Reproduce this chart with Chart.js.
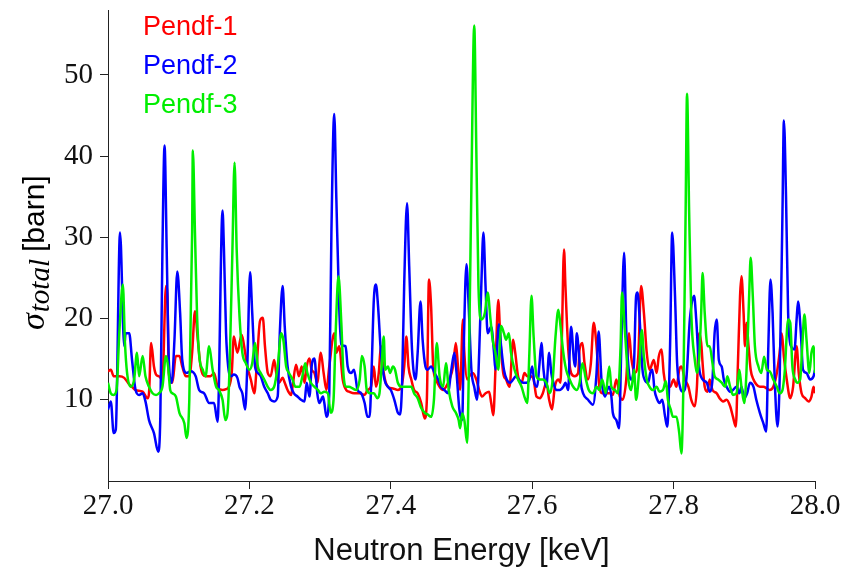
<!DOCTYPE html>
<html>
<head>
<meta charset="utf-8">
<script src="https://cdn.jsdelivr.net/npm/chart.js@4/dist/chart.umd.min.js"></script>
<style>
  html, body { margin: 0; padding: 0; background: #fff; }
  canvas { display: block; }
</style>
</head>
<body>
<canvas id="xsChart" width="844" height="570"></canvas>
<script>
// Pendf-1
const energy1 = [
  27.000, 27.004, 27.008, 27.016, 27.023, 27.030, 27.034, 27.039, 27.049, 27.056,
  27.058, 27.061, 27.065, 27.068, 27.072, 27.077, 27.082, 27.084, 27.086, 27.091,
  27.096, 27.101, 27.105, 27.110, 27.115, 27.119, 27.123, 27.127, 27.131, 27.138,
  27.145, 27.150, 27.155, 27.162, 27.167, 27.171, 27.175, 27.178, 27.183, 27.189,
  27.194, 27.197, 27.202, 27.207, 27.210, 27.215, 27.219, 27.222, 27.226, 27.230,
  27.235, 27.238, 27.242, 27.247, 27.250, 27.254, 27.259, 27.261, 27.266, 27.270,
  27.274, 27.278, 27.281, 27.285, 27.288, 27.292, 27.296, 27.301, 27.305, 27.309,
  27.313, 27.320, 27.323, 27.327, 27.332, 27.337, 27.341, 27.348, 27.356, 27.363,
  27.367, 27.372, 27.376, 27.379, 27.383, 27.386, 27.390, 27.396, 27.403, 27.410,
  27.415, 27.419, 27.422, 27.425, 27.429, 27.433, 27.438, 27.443, 27.448, 27.451,
  27.454, 27.457, 27.460, 27.464, 27.469, 27.474, 27.478, 27.483, 27.488, 27.492,
  27.495, 27.498, 27.502, 27.504, 27.508, 27.511, 27.516, 27.521, 27.525, 27.529,
  27.534, 27.539, 27.542, 27.545, 27.548, 27.552, 27.555, 27.559, 27.563, 27.568,
  27.573, 27.576, 27.580, 27.585, 27.589, 27.593, 27.598, 27.602, 27.606, 27.611,
  27.615, 27.620, 27.624, 27.628, 27.632, 27.637, 27.640, 27.642, 27.645, 27.647,
  27.651, 27.655, 27.660, 27.665, 27.667, 27.671, 27.674, 27.679, 27.683, 27.687,
  27.691, 27.695, 27.699, 27.704, 27.710, 27.714, 27.719, 27.724, 27.728, 27.733,
  27.737, 27.740, 27.745, 27.750, 27.754, 27.758, 27.762, 27.766, 27.772, 27.776,
  27.779, 27.783, 27.786, 27.790, 27.795, 27.800, 27.804, 27.808, 27.811, 27.816,
  27.821, 27.825, 27.830, 27.833, 27.836, 27.839, 27.841, 27.844, 27.848, 27.851,
  27.855, 27.861, 27.865, 27.870, 27.875, 27.880, 27.884, 27.888, 27.891, 27.894,
  27.896, 27.899, 27.901, 27.903, 27.906, 27.909, 27.913, 27.917, 27.922, 27.927,
  27.932, 27.936, 27.941, 27.946, 27.950, 27.953, 27.956, 27.960, 27.965, 27.969,
  27.974, 27.977, 27.981, 27.986, 27.991, 27.995, 27.998, 28.000
];
const sigma1 = [
  13.5, 13.7, 12.9, 12.9, 12.7, 11.9, 11.6, 11.2, 11.0, 10.2,
  10.8, 17.0, 14.1, 13.1, 12.9, 12.5, 24.0, 22.8, 13.3, 12.1,
  15.4, 15.4, 14.1, 12.9, 12.9, 15.8, 20.9, 17.4, 14.1, 12.9,
  12.9, 13.3, 11.6, 11.2, 11.3, 11.6, 13.3, 17.8, 15.8, 18.0,
  15.8, 14.1, 12.5, 10.8, 13.7, 19.7, 20.1, 16.6, 13.3, 12.9,
  14.9, 13.3, 12.1, 12.7, 12.1, 11.2, 10.6, 11.6, 14.3, 12.9,
  14.1, 12.1, 14.1, 15.1, 13.7, 13.3, 12.1, 15.8, 13.3, 11.2,
  14.1, 18.2, 15.8, 16.6, 12.5, 11.2, 11.0, 10.8, 10.8, 10.6,
  11.2, 11.6, 14.1, 11.6, 13.3, 16.6, 13.3, 11.6, 11.4, 11.2,
  11.6, 14.1, 17.8, 14.1, 12.5, 11.2, 10.8, 9.6, 7.7, 10.0,
  24.8, 21.5, 14.1, 12.5, 11.6, 11.2, 11.6, 12.5, 14.1, 17.0,
  14.1, 11.2, 19.9, 15.8, 12.5, 12.9, 13.3, 12.5, 11.2, 10.4,
  10.8, 11.0, 9.6, 8.1, 13.7, 22.3, 17.4, 13.3, 12.5, 11.6,
  17.4, 15.8, 12.9, 12.1, 13.3, 12.9, 12.9, 12.5, 10.4, 10.2,
  10.8, 12.1, 10.0, 8.8, 11.6, 12.5, 12.1, 17.8, 28.5, 24.0,
  16.2, 13.3, 12.9, 13.3, 16.2, 17.0, 14.5, 12.5, 14.5, 19.5,
  16.6, 11.6, 10.8, 10.8, 10.8, 10.6, 12.5, 10.4, 10.0, 12.5,
  18.2, 15.3, 13.3, 15.3, 24.0, 20.7, 15.8, 13.7, 14.9, 13.3,
  15.3, 16.2, 13.3, 11.6, 11.6, 12.5, 11.6, 13.7, 14.1, 12.5,
  11.6, 10.0, 9.2, 11.6, 18.2, 17.0, 14.5, 11.6, 11.0, 12.5,
  11.2, 10.8, 10.2, 9.8, 10.0, 9.2, 7.9, 6.7, 14.5, 22.8,
  25.2, 20.7, 16.6, 19.5, 16.6, 13.7, 12.5, 11.9, 11.6, 11.6,
  11.4, 11.2, 11.6, 13.3, 15.8, 18.2, 15.3, 12.5, 10.2, 11.6,
  16.6, 13.3, 10.8, 10.2, 9.8, 10.4, 11.6, 10.8
];

// Pendf-2
const energy2 = [
  27.000, 27.004, 27.008, 27.011, 27.017, 27.023, 27.025, 27.030, 27.034, 27.039,
  27.044, 27.049, 27.053, 27.058, 27.065, 27.071, 27.074, 27.077, 27.080, 27.083,
  27.086, 27.090, 27.094, 27.098, 27.102, 27.105, 27.111, 27.117, 27.124, 27.129,
  27.136, 27.143, 27.150, 27.155, 27.162, 27.164, 27.167, 27.170, 27.174, 27.178,
  27.183, 27.186, 27.190, 27.194, 27.197, 27.201, 27.204, 27.208, 27.212, 27.216,
  27.221, 27.226, 27.230, 27.235, 27.240, 27.243, 27.247, 27.250, 27.254, 27.259,
  27.263, 27.268, 27.273, 27.278, 27.281, 27.285, 27.288, 27.292, 27.296, 27.299,
  27.304, 27.306, 27.309, 27.313, 27.316, 27.320, 27.323, 27.327, 27.330, 27.336,
  27.339, 27.344, 27.348, 27.353, 27.358, 27.363, 27.367, 27.370, 27.373, 27.376,
  27.379, 27.382, 27.386, 27.391, 27.396, 27.400, 27.405, 27.410, 27.413, 27.416,
  27.419, 27.423, 27.426, 27.430, 27.435, 27.438, 27.442, 27.445, 27.449, 27.452,
  27.457, 27.462, 27.467, 27.471, 27.476, 27.481, 27.485, 27.490, 27.493, 27.497,
  27.501, 27.503, 27.507, 27.510, 27.514, 27.518, 27.522, 27.525, 27.528, 27.531,
  27.534, 27.537, 27.542, 27.546, 27.548, 27.550, 27.553, 27.556, 27.560, 27.564,
  27.569, 27.573, 27.577, 27.581, 27.587, 27.592, 27.596, 27.600, 27.603, 27.607,
  27.610, 27.613, 27.616, 27.620, 27.624, 27.627, 27.630, 27.634, 27.639, 27.644,
  27.647, 27.651, 27.653, 27.655, 27.659, 27.661, 27.663, 27.666, 27.669, 27.672,
  27.679, 27.686, 27.691, 27.694, 27.698, 27.703, 27.706, 27.709, 27.712, 27.714,
  27.719, 27.723, 27.726, 27.730, 27.733, 27.737, 27.740, 27.744, 27.747, 27.749,
  27.752, 27.756, 27.759, 27.764, 27.767, 27.770, 27.773, 27.777, 27.780, 27.784,
  27.788, 27.791, 27.795, 27.798, 27.802, 27.805, 27.809, 27.813, 27.818, 27.823,
  27.829, 27.832, 27.836, 27.841, 27.847, 27.851, 27.855, 27.858, 27.861, 27.864,
  27.868, 27.871, 27.875, 27.880, 27.884, 27.889, 27.893, 27.896, 27.900, 27.904,
  27.908, 27.913, 27.917, 27.922, 27.927, 27.931, 27.934, 27.937, 27.940, 27.943,
  27.947, 27.950, 27.954, 27.956, 27.959, 27.962, 27.966, 27.971, 27.974, 27.976,
  27.980, 27.983, 27.988, 27.993, 27.998, 28.000
];
const sigma2 = [
  8.8, 9.8, 5.9, 6.3, 30.6, 16.6, 18.2, 18.2, 14.9, 11.2,
  10.6, 10.8, 9.8, 7.5, 5.9, 3.6, 7.9, 28.5, 41.3, 28.5,
  14.9, 12.1, 17.4, 25.8, 20.7, 14.9, 13.3, 13.5, 12.9, 11.2,
  10.8, 9.6, 9.6, 7.3, 33.3, 28.5, 18.2, 14.1, 12.9, 13.1,
  12.7, 11.6, 10.8, 8.8, 14.1, 25.7, 20.7, 14.1, 13.3, 12.9,
  11.6, 10.8, 10.0, 9.8, 10.4, 18.2, 24.0, 19.0, 14.1, 11.6,
  10.8, 10.4, 10.0, 9.8, 12.1, 10.4, 14.1, 15.1, 10.8, 9.6,
  10.4, 9.6, 7.9, 10.8, 30.6, 45.2, 34.7, 21.5, 16.8, 16.6,
  14.1, 13.3, 13.7, 11.2, 10.8, 9.6, 7.9, 7.9, 14.1, 22.3,
  24.2, 21.5, 15.8, 12.5, 11.6, 11.2, 10.0, 8.4, 8.2, 12.1,
  24.4, 34.2, 26.5, 16.2, 12.5, 15.8, 22.1, 17.4, 14.1, 13.7,
  14.1, 13.3, 12.5, 11.6, 11.2, 10.8, 13.3, 15.8, 13.3, 8.8,
  7.5, 15.8, 26.7, 21.9, 13.7, 11.6, 10.0, 15.8, 24.0, 30.6,
  24.0, 18.2, 19.0, 15.8, 13.7, 15.8, 19.3, 16.6, 13.7, 12.5,
  12.1, 12.5, 12.9, 12.5, 12.1, 12.1, 12.5, 14.1, 12.1, 11.6,
  14.1, 17.0, 13.7, 11.6, 15.8, 13.3, 12.1, 11.2, 11.2, 11.6,
  12.1, 11.2, 15.8, 19.0, 14.9, 14.1, 18.2, 15.8, 12.0, 10.8,
  10.0, 9.4, 13.3, 18.4, 12.5, 10.4, 11.2, 11.6, 10.4, 8.4,
  7.5, 6.5, 16.6, 28.1, 18.6, 13.3, 12.5, 14.5, 22.8, 23.2,
  19.9, 13.7, 12.5, 12.1, 13.3, 13.7, 11.2, 10.0, 9.6, 10.0,
  7.9, 6.7, 16.6, 30.6, 22.8, 14.5, 11.6, 11.0, 12.5, 19.9,
  22.8, 19.9, 14.1, 12.5, 12.1, 11.0, 12.5, 18.2, 19.9, 14.9,
  14.1, 12.5, 11.6, 11.0, 11.2, 11.6, 10.8, 11.6, 10.2, 10.8,
  12.1, 11.6, 10.0, 8.4, 7.1, 6.1, 16.6, 24.8, 20.7, 12.5,
  6.7, 12.5, 33.1, 44.4, 35.1, 20.7, 16.6, 16.2, 19.9, 22.1,
  18.2, 13.7, 13.3, 12.5, 12.9, 13.7
];

// Pendf-3
const energy3 = [
  27.000, 27.004, 27.008, 27.012, 27.016, 27.021, 27.024, 27.027, 27.032, 27.037,
  27.041, 27.044, 27.049, 27.053, 27.058, 27.063, 27.068, 27.072, 27.077, 27.082,
  27.085, 27.088, 27.091, 27.096, 27.101, 27.108, 27.111, 27.115, 27.119, 27.120,
  27.123, 27.126, 27.129, 27.134, 27.138, 27.143, 27.148, 27.153, 27.157, 27.162,
  27.166, 27.169, 27.172, 27.176, 27.179, 27.182, 27.186, 27.190, 27.195, 27.200,
  27.204, 27.208, 27.212, 27.216, 27.221, 27.226, 27.230, 27.235, 27.240, 27.245,
  27.248, 27.252, 27.256, 27.261, 27.265, 27.271, 27.275, 27.279, 27.282, 27.287,
  27.292, 27.297, 27.301, 27.306, 27.311, 27.315, 27.319, 27.322, 27.326, 27.330,
  27.333, 27.337, 27.341, 27.346, 27.351, 27.356, 27.359, 27.363, 27.366, 27.371,
  27.376, 27.381, 27.384, 27.387, 27.390, 27.392, 27.396, 27.399, 27.403, 27.406,
  27.410, 27.415, 27.419, 27.424, 27.429, 27.433, 27.438, 27.443, 27.448, 27.452,
  27.457, 27.461, 27.465, 27.469, 27.474, 27.478, 27.482, 27.487, 27.492, 27.496,
  27.498, 27.501, 27.504, 27.508, 27.510, 27.514, 27.518, 27.521, 27.524, 27.528,
  27.533, 27.537, 27.541, 27.544, 27.548, 27.552, 27.556, 27.560, 27.563, 27.567,
  27.570, 27.575, 27.580, 27.585, 27.589, 27.593, 27.596, 27.599, 27.602, 27.606,
  27.611, 27.615, 27.620, 27.625, 27.629, 27.633, 27.637, 27.640, 27.644, 27.648,
  27.653, 27.658, 27.663, 27.667, 27.671, 27.676, 27.680, 27.686, 27.691, 27.695,
  27.699, 27.704, 27.709, 27.712, 27.717, 27.721, 27.725, 27.727, 27.731, 27.736,
  27.740, 27.744, 27.747, 27.751, 27.755, 27.758, 27.762, 27.766, 27.771, 27.776,
  27.780, 27.785, 27.789, 27.792, 27.796, 27.799, 27.804, 27.808, 27.811, 27.814,
  27.817, 27.819, 27.822, 27.825, 27.830, 27.833, 27.836, 27.839, 27.841, 27.844,
  27.848, 27.851, 27.855, 27.858, 27.863, 27.868, 27.873, 27.876, 27.880, 27.884,
  27.889, 27.893, 27.896, 27.900, 27.903, 27.907, 27.909, 27.912, 27.915, 27.920,
  27.924, 27.928, 27.932, 27.936, 27.941, 27.946, 27.950, 27.954, 27.957, 27.962,
  27.965, 27.968, 27.972, 27.975, 27.979, 27.982, 27.985, 27.988, 27.992, 27.995,
  27.998, 28.000
];
const sigma3 = [
  12.1, 10.8, 10.6, 11.2, 18.2, 24.2, 17.0, 13.3, 11.6, 12.5,
  15.8, 12.9, 15.4, 12.9, 11.6, 10.8, 10.6, 10.8, 11.6, 15.4,
  14.1, 11.2, 10.8, 10.4, 8.4, 7.1, 5.3, 10.0, 30.6, 40.7,
  30.6, 20.3, 15.4, 13.7, 12.9, 16.6, 13.7, 11.6, 11.2, 10.0,
  7.5, 8.3, 14.1, 28.5, 39.2, 28.5, 20.3, 15.8, 14.5, 13.7,
  14.5, 17.0, 14.1, 13.3, 12.5, 11.6, 11.2, 11.6, 14.1, 18.2,
  17.4, 14.1, 13.3, 12.5, 11.6, 11.6, 12.9, 14.5, 13.3, 12.1,
  11.6, 11.2, 10.8, 11.0, 10.8, 8.4, 10.0, 18.2, 25.2, 19.5,
  13.3, 11.6, 11.6, 11.4, 11.2, 12.5, 15.4, 14.1, 11.2, 10.8,
  10.8, 10.2, 10.8, 14.1, 17.8, 13.7, 14.1, 13.3, 14.1, 13.7,
  12.1, 11.6, 11.6, 11.6, 11.6, 10.8, 10.2, 9.0, 8.4, 8.2,
  7.9, 10.0, 17.0, 12.9, 11.6, 14.5, 11.2, 9.2, 8.4, 7.5,
  6.5, 8.3, 7.5, 4.7, 11.6, 36.3, 56.1, 40.5, 24.0, 19.9,
  20.7, 23.2, 19.9, 17.4, 15.8, 13.7, 19.1, 18.2, 17.4, 18.2,
  15.8, 13.7, 12.5, 11.6, 10.4, 9.6, 15.8, 22.8, 17.8, 12.9,
  12.5, 12.5, 12.1, 10.8, 12.5, 17.8, 21.1, 19.1, 15.8, 13.7,
  12.5, 11.6, 11.2, 12.1, 14.5, 12.5, 11.2, 10.8, 11.6, 11.2,
  12.5, 10.8, 14.1, 11.6, 11.2, 10.8, 16.6, 23.2, 18.6, 12.5,
  11.2, 13.7, 10.0, 13.3, 18.6, 15.3, 12.5, 11.6, 11.2, 11.6,
  11.0, 11.2, 12.3, 10.0, 8.8, 7.9, 7.9, 5.9, 3.4, 12.5,
  33.0, 47.7, 33.0, 20.7, 14.9, 13.3, 14.9, 20.7, 25.6, 20.7,
  16.6, 16.6, 14.5, 12.9, 12.5, 12.1, 11.6, 12.9, 11.6, 10.6,
  10.8, 13.7, 11.6, 9.6, 13.3, 23.2, 27.5, 22.8, 16.6, 14.1,
  13.3, 15.3, 13.7, 13.5, 12.5, 11.6, 10.8, 11.2, 13.3, 19.9,
  19.5, 14.1, 12.5, 12.1, 12.5, 16.6, 20.5, 17.4, 13.3, 15.8,
  16.6, 13.3
];

const seriesNames = ['Pendf-1', 'Pendf-2', 'Pendf-3'];
const seriesColors = ['#ff0000', '#0000ff', '#00ee00'];
const yTicks = [10, 20, 30, 40, 50];

const toPoints = (xs, ys) => xs.map((x, i) => ({ x, y: ys[i] }));

// colored text legend in the top left corner of the plot
const textLegend = {
  id: 'textLegend',
  afterDraw(chart) {
    const ctx = chart.ctx;
    ctx.save();
    ctx.font = '27px "Liberation Sans", Arial, sans-serif';
    ctx.textAlign = 'left';
    ctx.textBaseline = 'alphabetic';
    chart.data.datasets.forEach((ds, i) => {
      ctx.fillStyle = ds.borderColor;
      ctx.fillText(ds.label, 143, 34.5 + i * 39.3);
    });
    ctx.restore();
  }
};

// y title with an italic sigma and subscript
const sigmaTitle = {
  id: 'sigmaTitle',
  afterDraw(chart) {
    const ctx = chart.ctx;
    ctx.save();
    ctx.translate(0, 249);
    ctx.rotate(-Math.PI / 2);
    ctx.fillStyle = '#000';
    ctx.textAlign = 'left';
    ctx.textBaseline = 'alphabetic';
    let x = -81;
    ctx.font = 'italic 34px "Liberation Serif", serif';
    ctx.fillText('\u03c3', x, 44);
    x += ctx.measureText('\u03c3').width + 1;
    ctx.font = 'italic 29px "Liberation Serif", serif';
    ctx.fillText('total', x, 49);
    x += ctx.measureText('total').width + 7;
    ctx.font = '30px "Liberation Sans", Arial, sans-serif';
    ctx.fillText('[barn]', x, 44);
    ctx.restore();
  }
};

const tickFont = { family: '"Liberation Serif", "Times New Roman", serif', size: 29 };

new Chart(document.getElementById('xsChart'), {
  type: 'line',
  data: {
    datasets: [
      { label: seriesNames[0], data: toPoints(energy1, sigma1), borderColor: seriesColors[0], order: 2 },
      { label: seriesNames[1], data: toPoints(energy2, sigma2), borderColor: seriesColors[1], order: 1 },
      { label: seriesNames[2], data: toPoints(energy3, sigma3), borderColor: seriesColors[2], order: 0 }
    ]
  },
  options: {
    responsive: false,
    animation: false,
    layout: { padding: { top: 10, right: 29, bottom: 0, left: 0 } },
    elements: {
      point: { radius: 0 },
      line: { borderWidth: 2.5, cubicInterpolationMode: 'monotone', fill: false }
    },
    plugins: {
      legend: { display: false },
      tooltip: { enabled: false }
    },
    scales: {
      x: {
        type: 'linear',
        min: 27,
        max: 28,
        afterFit(scale) { scale.height = 89; },
        grid: { drawOnChartArea: false, tickLength: 8, color: '#222' },
        border: { color: '#222', width: 1 },
        ticks: {
          stepSize: 0.2,
          autoSkip: false,
          maxRotation: 0,
          padding: 0,
          color: '#111',
          font: tickFont,
          callback: v => Number(v).toFixed(1)
        },
        title: {
          display: true,
          text: 'Neutron Energy [keV]',
          color: '#111',
          padding: { top: 0, bottom: 0 },
          font: { family: '"Liberation Sans", Arial, sans-serif', size: 31 }
        }
      },
      y: {
        min: 0,
        max: 58,
        afterFit(scale) {
          scale.width = 108;
          scale.paddingTop = 0;
          scale.paddingBottom = 0;
        },
        afterBuildTicks(scale) {
          scale.ticks = yTicks.map(v => ({ value: v }));
        },
        grid: { drawOnChartArea: false, tickLength: 8, color: '#222' },
        border: { color: '#222', width: 1 },
        ticks: {
          stepSize: 10,
          padding: 7,
          color: '#111',
          font: tickFont
        }
      }
    }
  },
  plugins: [textLegend, sigmaTitle]
});
</script>
</body>
</html>
